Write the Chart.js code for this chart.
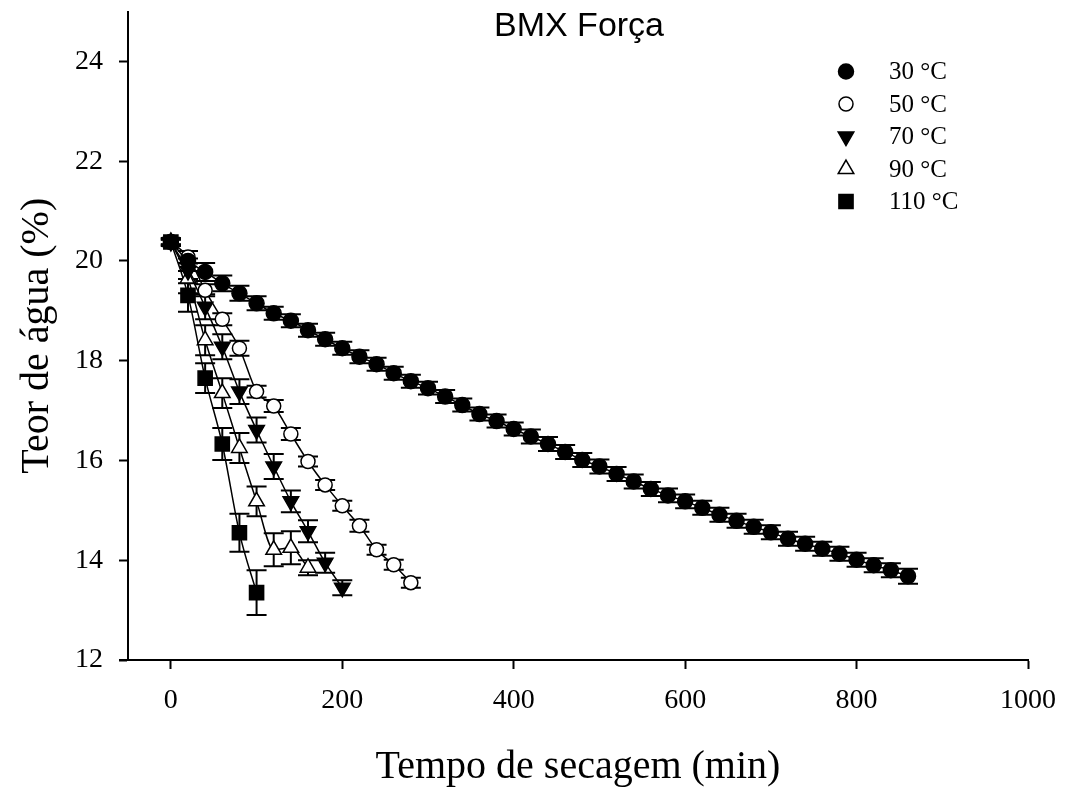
<!DOCTYPE html>
<html>
<head>
<meta charset="utf-8">
<script src="https://cdn.jsdelivr.net/npm/chart.js@4"></script>
<style>
  body { margin: 0; background: #fff; }
</style>
</head>
<body>
<canvas id="dryingChart" width="1066" height="791"></canvas>
<script>
// drying time (min) and water content (%) for each temperature
const time30 = [0, 20, 40, 60, 80, 100, 120, 140, 160, 180, 200, 220, 240, 260, 280, 300, 320, 340, 360, 380, 400, 420,
  440, 460, 480, 500, 520, 540, 560, 580, 600, 620, 640, 660, 680, 700, 720, 740, 760, 780, 800, 820, 840, 860];
const water30 = [20.38, 20.0, 19.78, 19.55, 19.35, 19.15, 18.95, 18.8, 18.61, 18.43, 18.25, 18.08, 17.93, 17.75, 17.59,
  17.45, 17.28, 17.11, 16.93, 16.79, 16.63, 16.48, 16.33, 16.17, 16.01, 15.88, 15.73, 15.58, 15.43, 15.3, 15.18, 15.05,
  14.91, 14.79, 14.67, 14.56, 14.43, 14.33, 14.23, 14.13, 14.01, 13.9, 13.8, 13.68];
const err30 = [0.08, 0.2, 0.18, 0.16, 0.15, 0.14, 0.13, 0.13, 0.13, 0.13, 0.13, 0.13, 0.13, 0.13, 0.13, 0.13, 0.13,
  0.13, 0.13, 0.13, 0.13, 0.14, 0.14, 0.14, 0.14, 0.14, 0.14, 0.14, 0.14, 0.14, 0.14, 0.14, 0.14, 0.14, 0.14, 0.14,
  0.14, 0.14, 0.14, 0.14, 0.14, 0.14, 0.14, 0.15];

const time50 = [0, 20, 40, 60, 80, 100, 120, 140, 160, 180, 200, 220, 240, 260, 280];
const water50 = [20.38, 20.08, 19.41, 18.83, 18.25, 17.38, 17.09, 16.53, 15.98, 15.51, 15.09, 14.69, 14.21, 13.91, 13.55];
const err50 = [0.08, 0.12, 0.12, 0.12, 0.15, 0.12, 0.12, 0.12, 0.1, 0.1, 0.1, 0.12, 0.1, 0.1, 0.1];

const time70 = [0, 20, 40, 60, 80, 100, 120, 140, 160, 180, 200];
const water70 = [20.38, 19.8, 19.08, 18.28, 17.38, 16.61, 15.88, 15.18, 14.58, 13.95, 13.45];
const err70 = [0.05, 0.25, 0.25, 0.25, 0.25, 0.25, 0.25, 0.22, 0.22, 0.2, 0.15];

const time90 = [0, 20, 40, 60, 80, 100, 120, 140, 160];
const water90 = [20.38, 19.65, 18.41, 17.35, 16.25, 15.18, 14.21, 14.25, 13.85];
const err90 = [0.05, 0.3, 0.3, 0.3, 0.3, 0.3, 0.33, 0.33, 0.15];

const time110 = [0, 20, 40, 60, 80, 100];
const water110 = [20.38, 19.31, 17.65, 16.33, 14.55, 13.35];
const err110 = [0.05, 0.33, 0.3, 0.32, 0.38, 0.45];

const seriesLabels = ["30 °C", "50 °C", "70 °C", "90 °C", "110 °C"];
const xTicks = [0, 200, 400, 600, 800, 1000];
const yTicks = [12, 14, 16, 18, 20, 22, 24];

function toPoints(xs, ys) {
  return xs.map((x, i) => ({ x: x, y: ys[i] }));
}

// marker look per series: [pointStyle, rotation, filled, radius]
const markers = [
  ["circle", 0, true, 7.5],
  ["circle", 0, false, 7],
  ["triangle", 180, true, 9],
  ["triangle", 0, false, 9],
  ["rect", 0, true, 10],
];
const seriesTimes = [time30, time50, time70, time90, time110];
const seriesWater = [water30, water50, water70, water90, water110];
const seriesErr = [err30, err50, err70, err90, err110];

const datasets = seriesLabels.map((label, i) => ({
  label: label,
  data: toPoints(seriesTimes[i], seriesWater[i]),
  errors: seriesErr[i],
  showLine: true,
  borderColor: "#000",
  borderWidth: 1.5,
  cubicInterpolationMode: "monotone",
  pointStyle: markers[i][0],
  rotation: markers[i][1],
  pointRadius: markers[i][3],
  pointBackgroundColor: markers[i][2] ? "#000" : "#fff",
  pointBorderColor: "#000",
  pointBorderWidth: 1.5,
}));

// vertical error bars with caps, drawn under the markers
const errorBars = {
  id: "errorBars",
  beforeDatasetsDraw(chart) {
    const ctx = chart.ctx;
    const xs = chart.scales.x;
    const ys = chart.scales.y;
    ctx.save();
    ctx.strokeStyle = "#000";
    ctx.lineWidth = 2;
    chart.data.datasets.forEach((ds) => {
      ds.data.forEach((p, i) => {
        const e = ds.errors[i];
        const px = xs.getPixelForValue(p.x);
        const top = ys.getPixelForValue(p.y + e);
        const bot = ys.getPixelForValue(p.y - e);
        ctx.beginPath();
        ctx.moveTo(px, top);
        ctx.lineTo(px, bot);
        ctx.moveTo(px - 10, top);
        ctx.lineTo(px + 10, top);
        ctx.moveTo(px - 10, bot);
        ctx.lineTo(px + 10, bot);
        ctx.stroke();
      });
    });
    ctx.restore();
  },
};

// title inside the plot and the legend in the top right corner
const overlay = {
  id: "overlay",
  afterDraw(chart) {
    const ctx = chart.ctx;
    const area = chart.chartArea;
    ctx.save();
    // x axis line runs a little past the y axis, as in the original
    ctx.strokeStyle = "#000";
    ctx.lineWidth = 2;
    ctx.beginPath();
    ctx.moveTo(area.left - 9, area.bottom);
    ctx.lineTo(area.left, area.bottom);
    ctx.stroke();

    ctx.fillStyle = "#000";
    ctx.font = "34px 'Liberation Sans', Arial, sans-serif";
    ctx.textAlign = "center";
    ctx.textBaseline = "middle";
    ctx.fillText("BMX Força", 579, 27);

    ctx.font = "25px 'Liberation Serif', 'Times New Roman', serif";
    ctx.textAlign = "left";
    seriesLabels.forEach((label, i) => {
      const y = 71.5 + i * 32.5;
      ctx.strokeStyle = "#000";
      ctx.fillStyle = markers[i][2] ? "#000" : "#fff";
      ctx.lineWidth = 1.5;
      Chart.helpers.drawPoint(ctx, {
        pointStyle: markers[i][0],
        rotation: markers[i][1],
        radius: markers[i][3],
        borderWidth: 1.5,
      }, 846, y);
      ctx.fillStyle = "#000";
      ctx.fillText(label, 889, y + 1);
    });
    ctx.restore();
  },
};

const serif = "'Liberation Serif', 'Times New Roman', serif";

const ctx = document.getElementById("dryingChart").getContext("2d");
const dryingChart = new Chart(ctx, {
  type: "scatter",
  data: { datasets: datasets },
  options: {
    responsive: false,
    animation: false,
    layout: { padding: { left: 0, right: 38, top: 9, bottom: 0 } },
    plugins: {
      legend: { display: false },
      tooltip: { enabled: false },
    },
    scales: {
      x: {
        type: "linear",
        min: -50,
        max: 1000,
        afterFit: (scale) => {
          scale.height = 131;
          scale.paddingLeft = 0;
          scale.paddingRight = 0;
        },
        afterBuildTicks: (scale) => { scale.ticks = xTicks.map((v) => ({ value: v })); },
        border: { display: true, color: "#000", width: 2 },
        grid: { display: true, drawOnChartArea: false, drawTicks: true, tickLength: 9, tickWidth: 2, tickColor: "#000" },
        ticks: {
          color: "#000",
          padding: 15,
          maxRotation: 0,
          callback: (v) => String(v),
          font: { family: serif, size: 28 },
        },
        title: {
          display: true,
          text: "Tempo de secagem (min)",
          color: "#000",
          padding: { top: 0, bottom: 0 },
          font: { family: serif, size: 40 },
        },
      },
      y: {
        type: "linear",
        min: 12,
        max: 25,
        afterFit: (scale) => {
          scale.width = 128;
          scale.paddingTop = 0;
          scale.paddingBottom = 0;
        },
        afterBuildTicks: (scale) => { scale.ticks = yTicks.map((v) => ({ value: v })); },
        border: { display: true, color: "#000", width: 2 },
        grid: { display: true, drawOnChartArea: false, drawTicks: true, tickLength: 9, tickWidth: 2, tickColor: "#000" },
        ticks: {
          color: "#000",
          padding: 16,
          callback: (v) => String(v),
          font: { family: serif, size: 28 },
        },
        title: {
          display: true,
          text: "Teor de água (%)",
          color: "#000",
          padding: { top: 13, bottom: 0 },
          font: { family: serif, size: 40 },
        },
      },
    },
  },
  plugins: [errorBars, overlay],
});
</script>
</body>
</html>
